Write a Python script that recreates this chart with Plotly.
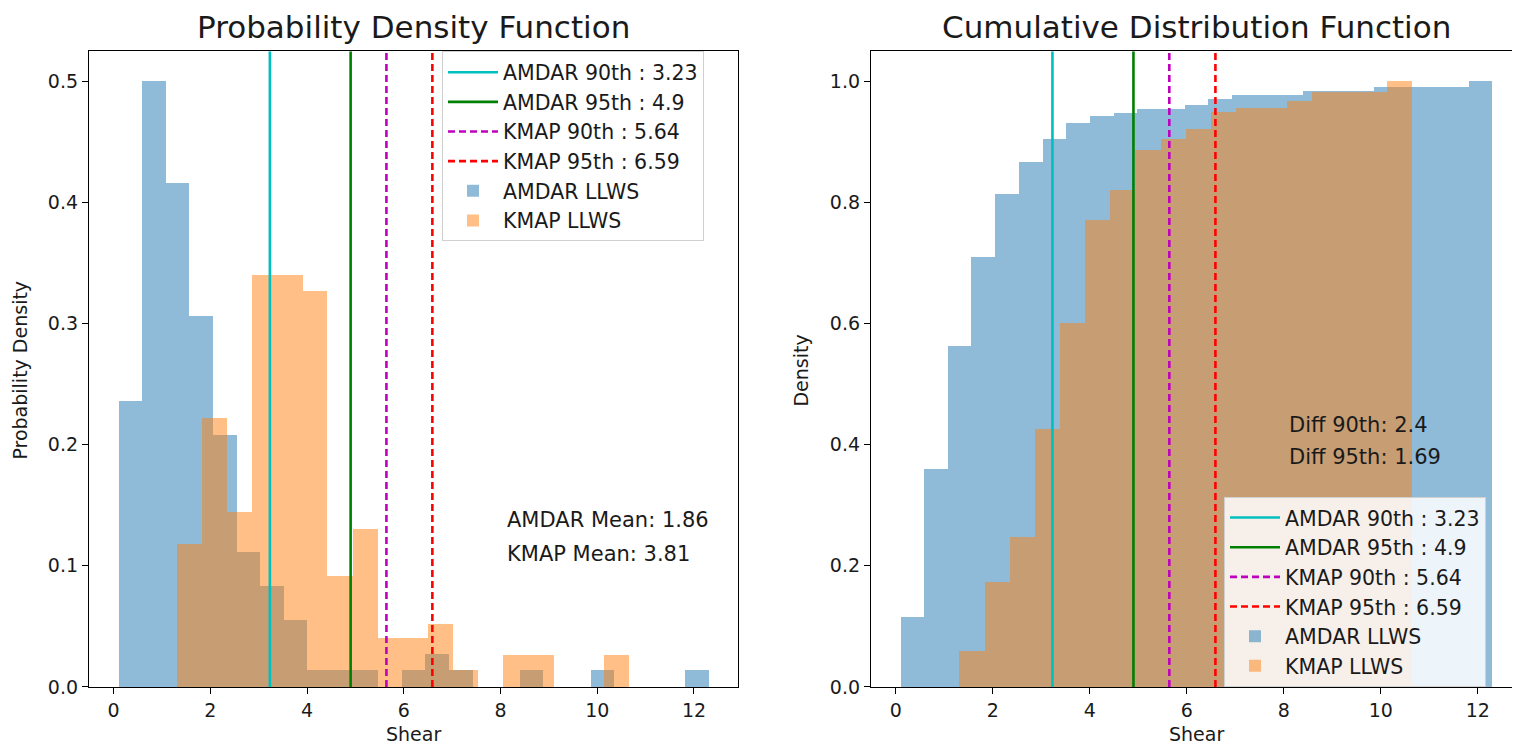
import plotly.graph_objects as go

# ---------------- data ----------------
amdar_edges = [0.10, 0.59, 1.08, 1.56, 2.05, 2.54, 3.03, 3.52, 4.00, 4.49, 4.98,
               5.47, 5.96, 6.44, 6.93, 7.42, 7.91, 8.40, 8.88, 9.37, 9.86, 10.35,
               10.84, 11.32, 11.81, 12.30]
amdar_pdf = [0.236, 0.500, 0.416, 0.306, 0.208, 0.111, 0.083, 0.055, 0.0135, 0.0135,
             0.0135, 0.0, 0.0135, 0.027, 0.0135, 0.0, 0.0, 0.0135, 0.0, 0.0,
             0.0135, 0.0, 0.0, 0.0, 0.0135]
amdar_cdf = [0.115, 0.359, 0.562, 0.709, 0.814, 0.867, 0.905, 0.931, 0.942, 0.948,
             0.954, 0.954, 0.960, 0.971, 0.978, 0.978, 0.978, 0.984, 0.984, 0.984,
             0.991, 0.991, 0.991, 0.991, 1.000]

kmap_edges = [1.31, 1.83, 2.35, 2.87, 3.39, 3.91, 4.42, 4.94, 5.46, 5.98, 6.50,
              7.02, 7.54, 8.06, 8.58, 9.10, 9.61, 10.13, 10.65]
kmap_pdf = [0.118, 0.222, 0.144, 0.340, 0.340, 0.327, 0.091, 0.130, 0.040, 0.040,
            0.0515, 0.0135, 0.0, 0.026, 0.026, 0.0, 0.0, 0.026]
kmap_cdf = [0.058, 0.172, 0.247, 0.426, 0.601, 0.770, 0.821, 0.887, 0.904, 0.921,
            0.950, 0.956, 0.956, 0.968, 0.983, 0.983, 0.983, 1.000]

pct_names = ["AMDAR 90th", "AMDAR 95th", "KMAP 90th", "KMAP 95th"]
pct_values = [3.23, 4.9, 5.64, 6.59]
hist_names = ["AMDAR LLWS", "KMAP LLWS"]

mean_labels = ["AMDAR Mean: 1.86", "KMAP Mean: 3.81"]
diff_labels = ["Diff 90th: 2.4", "Diff 95th: 1.69"]

titles = ["Probability Density Function", "Cumulative Distribution Function"]
x_titles = ["Shear", "Shear"]
y_titles = ["Probability Density", "Density"]

x_ticks = [0, 2, 4, 6, 8, 10, 12]
pdf_yticks = [0.0, 0.1, 0.2, 0.3, 0.4, 0.5]
cdf_yticks = [0.0, 0.2, 0.4, 0.6, 0.8, 1.0]

# ---------------- styles ----------------
W, H = 1520, 750
line_colors = ["#00BFBF", "#008000", "#BF00BF", "#FF0000"]
line_dash = ["solid", "solid", "7px,4px", "7px,4px"]
hist_colors = ["rgba(31,119,180,0.5)", "rgba(255,127,14,0.5)"]
FONT = "DejaVu Sans"
TXT = "#1a1a1a"

xr = [-0.51, 12.91]
pdf_yr = [0, 0.525]
cdf_yr = [0, 1.05]


def centers(e):
    return [(a + b) / 2 for a, b in zip(e[:-1], e[1:])]


def widths(e):
    return [b - a for a, b in zip(e[:-1], e[1:])]


fig = go.Figure()

panels = [
    dict(xa="x", ya="y", leg="legend", yr=pdf_yr,
         series=[(amdar_edges, amdar_pdf), (kmap_edges, kmap_pdf)]),
    dict(xa="x2", ya="y2", leg="legend2", yr=cdf_yr,
         series=[(amdar_edges, amdar_cdf), (kmap_edges, kmap_cdf)]),
]

for p in panels:
    for name, v, c, d in zip(pct_names, pct_values, line_colors, line_dash):
        fig.add_trace(go.Scatter(
            x=[v, v], y=p["yr"], mode="lines", name=f"{name} : {v}",
            line=dict(color=c, width=2.6, dash=d),
            xaxis=p["xa"], yaxis=p["ya"], legend=p["leg"], hoverinfo="skip"))
    for (edges, vals), name, col in zip(p["series"], hist_names, hist_colors):
        fig.add_trace(go.Bar(
            x=centers(edges), y=vals, width=widths(edges), name=name,
            marker=dict(color=col, line=dict(width=0)),
            xaxis=p["xa"], yaxis=p["ya"], legend=p["leg"]))

axis_common = dict(
    showline=True, linecolor="black", linewidth=1.3, mirror=True,
    ticks="outside", ticklen=6, tickwidth=1.2, tickcolor="black",
    showgrid=False, zeroline=False,
    tickfont=dict(family=FONT, size=19, color=TXT),
)

xd1 = [81 / W, 730 / W]
xd2 = [863 / W, 1514 / W]
yd = [61 / H, 706 / H]

legend_common = dict(
    xanchor="left", yanchor="top",
    bgcolor="rgba(255,255,255,0.85)", bordercolor="#d0d0d0", borderwidth=1,
    font=dict(family=FONT, size=20.5, color=TXT), itemwidth=50, tracegroupgap=0,
)

fig.update_layout(
    width=W, height=H, margin=dict(l=0, r=0, t=0, b=0),
    paper_bgcolor="white", plot_bgcolor="white",
    barmode="overlay", bargap=0, showlegend=True,
    font=dict(family=FONT, size=19, color=TXT),
    xaxis=dict(domain=xd1, range=xr, tickvals=x_ticks, anchor="y", **axis_common),
    yaxis=dict(domain=yd, range=pdf_yr, tickvals=pdf_yticks, tickformat=".1f",
               anchor="x", **axis_common),
    xaxis2=dict(domain=xd2, range=xr, tickvals=x_ticks, anchor="y2", **axis_common),
    yaxis2=dict(domain=yd, range=cdf_yr, tickvals=cdf_yticks, tickformat=".1f",
                anchor="x2", **axis_common),
    legend=dict(x=434 / W, y=1 - 44 / H, **legend_common),
    legend2=dict(x=1216 / W, y=1 - 496 / H, **legend_common),
)

ann = []
for t, xt, yt, xd, ylab_x in zip(titles, x_titles, y_titles, [xd1, xd2], [12, 793]):
    xc = (xd[0] + xd[1]) / 2
    ann.append(dict(text=t, x=xc, y=1.0, xref="paper", yref="paper",
                    xanchor="center", yanchor="top", showarrow=False,
                    borderpad=0, font=dict(family=FONT, size=31, color=TXT)))
    ann.append(dict(text=xt, x=xc, y=1 - 737 / H, xref="paper", yref="paper",
                    xanchor="center", yanchor="middle", showarrow=False,
                    font=dict(family=FONT, size=19, color=TXT)))
    ann.append(dict(text=yt, x=ylab_x / W, y=1 - 368 / H, xref="paper", yref="paper",
                    xanchor="center", yanchor="middle", showarrow=False, textangle=-90,
                    font=dict(family=FONT, size=19, color=TXT)))
for lbl, ypx in zip(mean_labels, [520, 554]):
    ann.append(dict(text=lbl, x=497 / W, y=1 - ypx / H, xref="paper", yref="paper",
                    xanchor="left", yanchor="middle", showarrow=False,
                    font=dict(family=FONT, size=21, color=TXT)))
for lbl, ypx in zip(diff_labels, [423, 456]):
    ann.append(dict(text=lbl, x=1279 / W, y=1 - ypx / H, xref="paper", yref="paper",
                    xanchor="left", yanchor="middle", showarrow=False,
                    font=dict(family=FONT, size=21, color=TXT)))
fig.update_layout(annotations=ann)

fig.write_html("out.html")
